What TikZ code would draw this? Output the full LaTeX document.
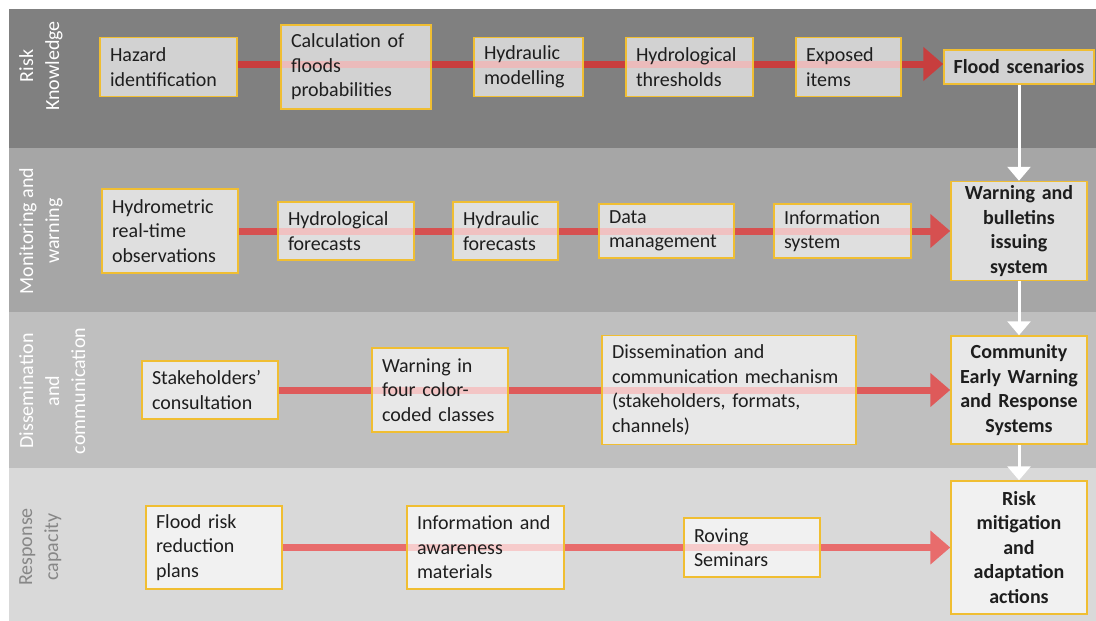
\documentclass[tikz,border=0pt]{standalone}
\usepackage{fontspec}
\setmainfont{Carlito}
\usetikzlibrary{arrows.meta}
\definecolor{bandA}{RGB}{128,128,128}
\definecolor{bandB}{RGB}{166,166,166}
\definecolor{bandC}{RGB}{191,191,191}
\definecolor{bandD}{RGB}{217,217,217}
\definecolor{redA}{RGB}{200,62,62}
\definecolor{redB}{RGB}{214,80,80}
\definecolor{redC}{RGB}{222,90,90}
\definecolor{redD}{RGB}{232,108,108}
\definecolor{gold}{RGB}{240,190,50}
\definecolor{txt}{RGB}{30,30,30}
\definecolor{sidegray}{RGB}{135,135,135}
\pgfdeclarelayer{bands}
\pgfdeclarelayer{lines}
\pgfsetlayers{bands,lines,main}
\begin{document}
\begin{tikzpicture}[x=1pt,y=-1pt,
  bx/.style={draw=gold, line width=1.5pt, fill=white, fill opacity=0.65, text opacity=1, draw opacity=1, text=txt, font=\fontsize{20}{24.5}\selectfont, align=left, inner xsep=10pt, inner ysep=0pt},
  res/.style={bx, font=\bfseries\fontsize{20}{24.5}\selectfont, align=center, inner xsep=4pt},
  side/.style={rotate=90, anchor=north, align=center, text=white, font=\fontsize{20}{26}\selectfont, inner sep=0pt},
  flow/.style={line width=7pt, -{Triangle[length=20pt,width=33pt]}},
  down/.style={white, line width=3pt, -{Triangle[length=14pt,width=23pt]}}]
\useasboundingbox (0,0) rectangle (1096,621);
\begin{pgfonlayer}{bands}
\fill[white] (0,0) rectangle (1096,621);
\fill[bandA] (9,9) rectangle (1096,148);
\fill[bandB] (9,148) rectangle (1096,312);
\fill[bandC] (9,312) rectangle (1096,468);
\fill[bandD] (9,468) rectangle (1096,621);
\end{pgfonlayer}

% side labels
\node[side] (l1) at (19,66) {Risk\\Knowledge};
\node[side] (l2) at (19,231) {Monitoring and\\warning};
\node[side] (l3) at (19,391) {Dissemination\\and\\communication};
\node[side, text=sidegray] (l4) at (19,547) {Response\\capacity};

% band 1
\node[bx, minimum width=137pt, text width=117pt, minimum height=59pt] (h1) at (168.5,67) {Hazard\\identification};
\node[bx, minimum width=150pt, text width=130pt, minimum height=84pt] (h2) at (356,67) {Calculation of\\floods\\probabilities};
\node[bx, minimum width=109pt, text width=89pt, minimum height=59pt] (h3) at (528.5,67) {Hydraulic\\modelling};
\node[bx, minimum width=127pt, text width=107pt, minimum height=59pt] (h4) at (689.5,67) {Hydrological\\thresholds};
\node[bx, minimum width=105pt, text width=85pt, minimum height=59pt] (h5) at (848.5,67) {Exposed\\items};
\node[res, minimum width=150pt, text width=142pt, minimum height=34pt] (h6) at (1019,67) {Flood scenarios};

% band 2
\node[bx, minimum width=136pt, text width=116pt, minimum height=84pt] (m1) at (170,231) {Hydrometric\\real-time\\observations};
\node[bx, minimum width=136pt, text width=116pt, minimum height=58pt] (m2) at (346,231) {Hydrological\\forecasts};
\node[bx, minimum width=105pt, text width=85pt, minimum height=58pt] (m3) at (505.5,231) {Hydraulic\\forecasts};
\node[bx, minimum width=135pt, text width=115pt, minimum height=54pt] (m4) at (666.5,231) {Data\\management};
\node[bx, minimum width=137pt, text width=117pt, minimum height=54pt] (m5) at (842.5,231) {Information\\system};
\node[res, minimum width=136pt, text width=128pt, minimum height=99pt] (m6) at (1019,231) {Warning and\\bulletins\\issuing\\system};

% band 3
\node[bx, minimum width=136pt, text width=116pt, minimum height=58pt] (d1) at (210,390) {Stakeholders’\\consultation};
\node[bx, minimum width=136pt, text width=116pt, minimum height=84pt] (d2) at (440,390) {Warning in\\four color-\\coded classes};
\node[bx, minimum width=254pt, text width=234pt, minimum height=109pt] (d3) at (729,390) {Dissemination and\\communication mechanism\\(stakeholders, formats,\\channels)};
\node[res, minimum width=136pt, text width=128pt, minimum height=108pt] (d4) at (1019,390) {Community\\Early Warning\\and Response\\Systems};

% band 4
\node[bx, minimum width=136pt, text width=116pt, minimum height=83pt] (r1) at (214,547.5) {Flood risk\\reduction\\plans};
\node[bx, minimum width=157pt, text width=137pt, minimum height=83pt] (r2) at (485.5,547.5) {Information and\\awareness\\materials};
\node[bx, minimum width=136pt, text width=116pt, minimum height=59pt] (r3) at (752,547.5) {Roving\\Seminars};
\node[res, minimum width=136pt, text width=128pt, minimum height=133pt] (r4) at (1019,547.5) {Risk\\mitigation\\and\\adaptation\\actions};

\begin{pgfonlayer}{lines}
\draw[flow, redA] ([yshift=3pt]h1.east) -- ([yshift=3pt]h6.west);
\draw[flow, redB] (m1.east) -- (m6.west);
\draw[flow, redC] (d1.east) -- (d4.west);
\draw[flow, redD] (r1.east) -- (r4.west);
\draw[down] (h6.south) -- (m6.north);
\draw[down] (m6.south) -- (d4.north);
\draw[down] (d4.south) -- (r4.north);
\end{pgfonlayer}
\end{tikzpicture}
\end{document}
